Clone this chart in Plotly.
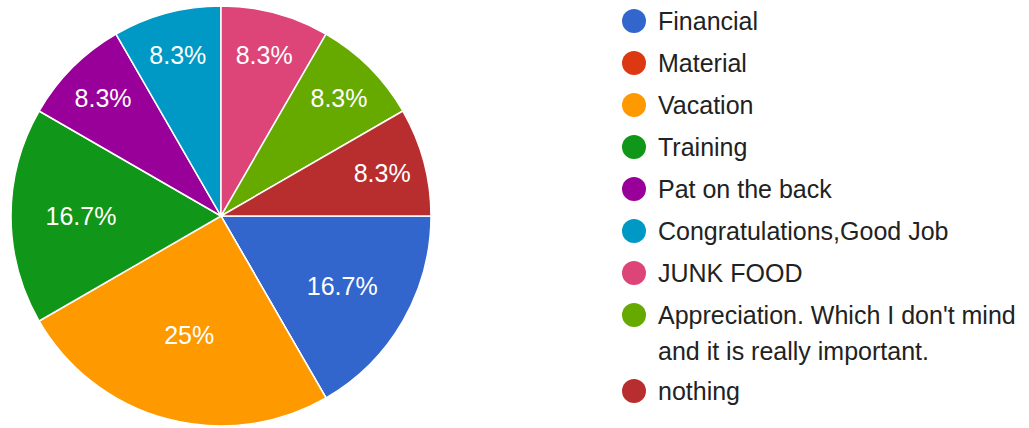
import textwrap
import plotly.graph_objects as go

# ---- data ----
categories = [
    "Financial",
    "Material",
    "Vacation",
    "Training",
    "Pat on the back",
    "Congratulations,Good Job",
    "JUNK FOOD",
    "Appreciation. Which I don't mind and it is really important.",
    "nothing",
]
responses = [2, 0, 3, 2, 1, 1, 1, 1, 1]
colors = ["#3366cc", "#dc3912", "#ff9900", "#109618", "#990099",
          "#0099c6", "#dd4477", "#66aa00", "#b82e2e"]

W, H = 1029, 428
FONT = "Liberation Sans, Arial, sans-serif"

total = sum(responses)


def pct_label(v):
    if v == 0:
        return ""
    s = f"{v / total * 100:.1f}".rstrip("0").rstrip(".")
    return s + "%"


texts = [pct_label(v) for v in responses]

# pie geometry (pixels)
cx, cy, r = 221, 216, 210

fig = go.Figure()
fig.add_trace(go.Pie(
    labels=categories,
    values=responses,
    text=texts,
    textinfo="text",
    textposition="inside",
    insidetextorientation="horizontal",
    sort=False,
    direction="clockwise",
    rotation=90,
    marker=dict(colors=colors, line=dict(color="white", width=1.5)),
    textfont=dict(family=FONT, size=25, color="white"),
    domain=dict(x=[(cx - r) / W, (cx + r) / W],
                y=[(H - cy - r) / H, (H - cy + r) / H]),
    showlegend=False,
    hoverinfo="label+value+percent",
))

# ---- custom legend (circle markers) built from the category list ----
shapes = []
annotations = []
lx, lr, tx = 634, 12, 656
row_y = 21
row_gap = 42
line_gap = 36
wrap_extra = 34
for name, col in zip(categories, colors):
    lines = textwrap.wrap(name, 32)
    shapes.append(dict(
        type="circle", xref="paper", yref="paper",
        x0=(lx - lr) / W, x1=(lx + lr) / W,
        y0=(H - row_y - lr) / H, y1=(H - row_y + lr) / H,
        fillcolor=col, line=dict(width=0),
    ))
    for k, ln in enumerate(lines):
        yy = row_y + k * line_gap
        annotations.append(dict(
            xref="paper", yref="paper", x=tx / W, y=(H - yy) / H,
            xanchor="left", yanchor="middle", text=ln, showarrow=False,
            font=dict(family=FONT, size=25, color="#222222"),
        ))
    row_y += row_gap + (len(lines) - 1) * wrap_extra

fig.update_layout(
    width=W, height=H,
    margin=dict(l=0, r=0, t=0, b=0),
    paper_bgcolor="white",
    plot_bgcolor="white",
    shapes=shapes,
    annotations=annotations,
    showlegend=False,
)

fig.write_html("out.html",
               config={"displayModeBar": False},
               post_script="document.body.style.margin='0';"
                           "document.body.style.overflow='hidden';")
